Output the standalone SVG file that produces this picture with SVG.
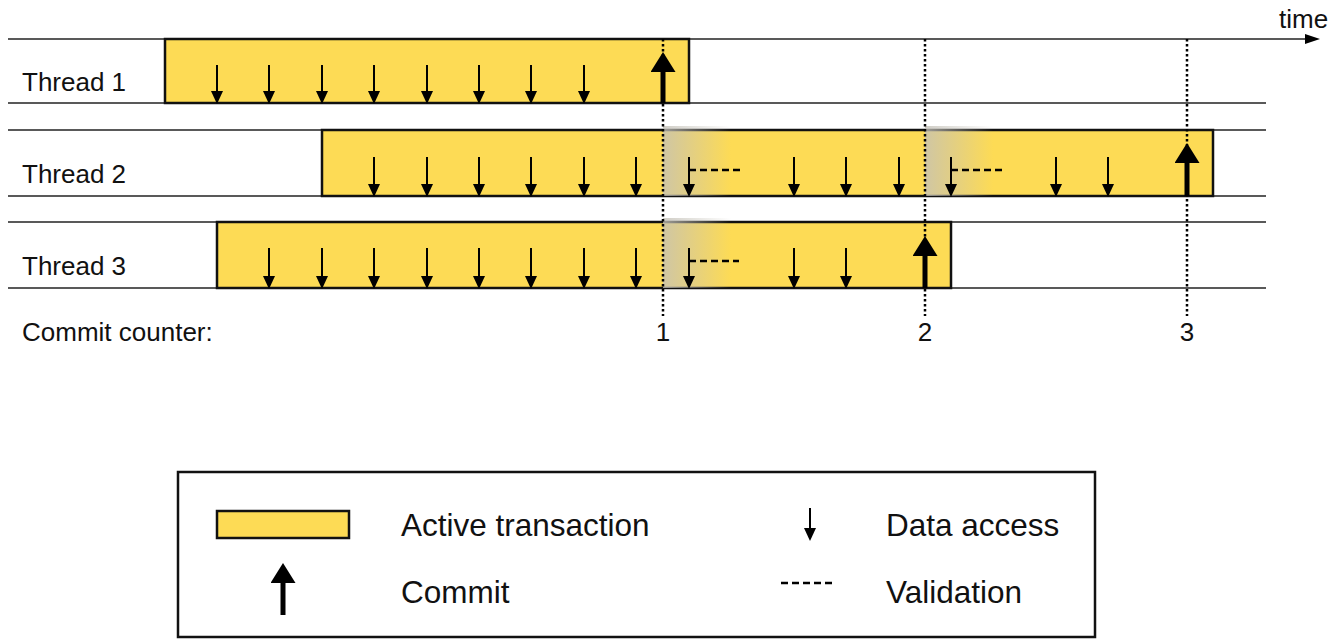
<svg xmlns="http://www.w3.org/2000/svg" width="1340" height="643" viewBox="0 0 1340 643">
<style>
text{font-family:"Liberation Sans",Arial,sans-serif;fill:#111}
.lbl{font-size:26px}
.leg{font-size:31.5px}
.lane{stroke:#222;stroke-width:1.5;fill:none}
.tx{fill:#fddb55;stroke:#111;stroke-width:2.5}
.acc{stroke:#000;stroke-width:2;marker-end:url(#ah)}
.com{stroke:#000;stroke-width:5;marker-end:url(#ch)}
.dot{stroke:#000;stroke-width:2.5;stroke-dasharray:2.5 2.5}
.val{stroke:#000;stroke-width:2.5;stroke-dasharray:7 4}
</style>
<defs>
<marker id="ah" viewBox="0 0 13 12" refX="0" refY="6" markerWidth="13" markerHeight="12" markerUnits="userSpaceOnUse" orient="auto"><path d="M0,0 L13,6 L0,12 z" fill="#000"/></marker>
<marker id="ch" viewBox="0 0 20 25" refX="0" refY="12.5" markerWidth="20" markerHeight="25" markerUnits="userSpaceOnUse" orient="auto"><path d="M0,0 L20,12.5 L0,25 z" fill="#000"/></marker>
<marker id="th" viewBox="0 0 15 10" refX="0" refY="5" markerWidth="15" markerHeight="10" markerUnits="userSpaceOnUse" orient="auto"><path d="M0,0 L15,5 L0,10 z" fill="#000"/></marker>
<linearGradient id="fade" x1="0" y1="0" x2="1" y2="0"><stop offset="0" stop-color="#c4c1b8" stop-opacity="0.8"/><stop offset="1" stop-color="#c4c1b8" stop-opacity="0"/></linearGradient>
</defs>

<g id="axis">
<line x1="8" y1="39" x2="1305" y2="39" stroke="#222" stroke-width="1.5" marker-end="url(#th)"/>
<text class="lbl" x="1279" y="28">time</text>
</g>

<g id="lanes">
<line class="lane" x1="8" y1="103" x2="1266" y2="103"/>
<line class="lane" x1="8" y1="130" x2="1266" y2="130"/>
<line class="lane" x1="8" y1="196" x2="1266" y2="196"/>
<line class="lane" x1="8" y1="222" x2="1266" y2="222"/>
<line class="lane" x1="8" y1="288" x2="1266" y2="288"/>
</g>

<g id="thread1">
<text class="lbl" x="22" y="91">Thread 1</text>
<rect class="tx" x="165" y="39" width="524" height="64"/>
</g>
<g id="thread2">
<text class="lbl" x="22" y="183">Thread 2</text>
<rect class="tx" x="322" y="130" width="891" height="66"/>
<rect x="663" y="126" width="68" height="70" fill="url(#fade)"/>
<rect x="925" y="126" width="68" height="70" fill="url(#fade)"/>
</g>
<g id="thread3">
<text class="lbl" x="22" y="275">Thread 3</text>
<rect class="tx" x="217" y="222" width="734" height="66"/>
<rect x="663" y="218" width="68" height="70" fill="url(#fade)"/>
</g>

<g id="counter">
<line class="dot" x1="663" y1="39" x2="663" y2="316"/>
<line class="dot" x1="925" y1="39" x2="925" y2="316"/>
<line class="dot" x1="1187" y1="39" x2="1187" y2="316"/>
<text class="lbl" x="22" y="341">Commit counter:</text>
<text class="lbl" x="663" y="341" text-anchor="middle">1</text>
<text class="lbl" x="925" y="341" text-anchor="middle">2</text>
<text class="lbl" x="1187" y="341" text-anchor="middle">3</text>
</g>

<g id="connectors">
<line class="acc" x1="217" y1="65" x2="217" y2="91"/>
<line class="acc" x1="269" y1="65" x2="269" y2="91"/>
<line class="acc" x1="322" y1="65" x2="322" y2="91"/>
<line class="acc" x1="374" y1="65" x2="374" y2="91"/>
<line class="acc" x1="427" y1="65" x2="427" y2="91"/>
<line class="acc" x1="479" y1="65" x2="479" y2="91"/>
<line class="acc" x1="531" y1="65" x2="531" y2="91"/>
<line class="acc" x1="584" y1="65" x2="584" y2="91"/>
<line class="com" x1="663" y1="103" x2="663" y2="72"/>
<line class="acc" x1="374" y1="157" x2="374" y2="184"/>
<line class="acc" x1="427" y1="157" x2="427" y2="184"/>
<line class="acc" x1="479" y1="157" x2="479" y2="184"/>
<line class="acc" x1="531" y1="157" x2="531" y2="184"/>
<line class="acc" x1="584" y1="157" x2="584" y2="184"/>
<line class="acc" x1="636" y1="157" x2="636" y2="184"/>
<line class="acc" x1="689" y1="157" x2="689" y2="184"/>
<line class="val" x1="689" y1="170" x2="740" y2="170"/>
<line class="acc" x1="794" y1="157" x2="794" y2="184"/>
<line class="acc" x1="846" y1="157" x2="846" y2="184"/>
<line class="acc" x1="899" y1="157" x2="899" y2="184"/>
<line class="acc" x1="951" y1="157" x2="951" y2="184"/>
<line class="val" x1="951" y1="170" x2="1002" y2="170"/>
<line class="acc" x1="1056" y1="157" x2="1056" y2="184"/>
<line class="acc" x1="1108" y1="157" x2="1108" y2="184"/>
<line class="com" x1="1187" y1="196" x2="1187" y2="163"/>
<line class="acc" x1="269" y1="248" x2="269" y2="276"/>
<line class="acc" x1="322" y1="248" x2="322" y2="276"/>
<line class="acc" x1="374" y1="248" x2="374" y2="276"/>
<line class="acc" x1="427" y1="248" x2="427" y2="276"/>
<line class="acc" x1="479" y1="248" x2="479" y2="276"/>
<line class="acc" x1="531" y1="248" x2="531" y2="276"/>
<line class="acc" x1="584" y1="248" x2="584" y2="276"/>
<line class="acc" x1="636" y1="248" x2="636" y2="276"/>
<line class="acc" x1="689" y1="248" x2="689" y2="276"/>
<line class="val" x1="689" y1="261" x2="739" y2="261"/>
<line class="acc" x1="794" y1="248" x2="794" y2="276"/>
<line class="acc" x1="846" y1="248" x2="846" y2="276"/>
<line class="com" x1="925" y1="288" x2="925" y2="256"/>
</g>

<g id="legend">
<rect x="178" y="472" width="917" height="165" fill="#fff" stroke="#111" stroke-width="2.5"/>
<rect class="tx" x="217" y="511" width="132" height="27"/>
<text class="leg" x="401" y="536">Active transaction</text>
<line class="com" x1="283" y1="615" x2="283" y2="583"/>
<text class="leg" x="401" y="603">Commit</text>
<line class="acc" x1="810" y1="508" x2="810" y2="528"/>
<text class="leg" x="886" y="536">Data access</text>
<line class="val" x1="781" y1="583" x2="832" y2="583"/>
<text class="leg" x="886" y="603">Validation</text>
</g>
</svg>
